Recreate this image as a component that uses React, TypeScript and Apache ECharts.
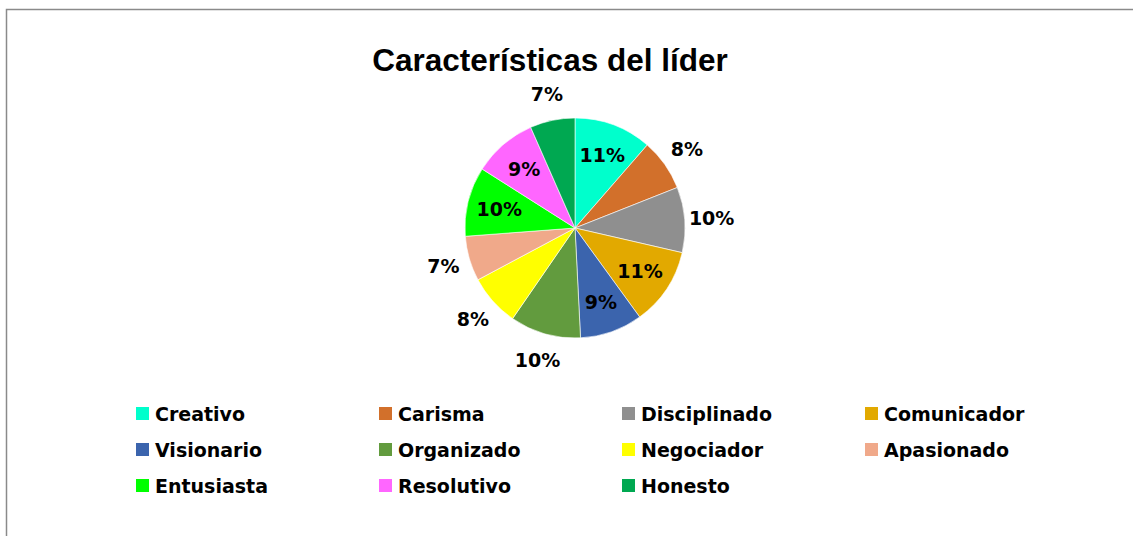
import React, { useEffect, useRef } from "react";
import * as echarts from "echarts";

const TITLE = "Características del líder";
const categories = [
  "Creativo",
  "Carisma",
  "Disciplinado",
  "Comunicador",
  "Visionario",
  "Organizado",
  "Negociador",
  "Apasionado",
  "Entusiasta",
  "Resolutivo",
  "Honesto",
];
const values = [11.4, 7.6, 9.6, 11.4, 9.2, 10.4, 7.6, 6.6, 10.2, 9.4, 6.6];
const colors = [
  "#00FFCC",
  "#D2702B",
  "#8F8F8F",
  "#E2A900",
  "#3B64AD",
  "#629B3E",
  "#FFFF00",
  "#F0A98A",
  "#00FF00",
  "#FF66FF",
  "#00A851",
];
const insideLabels = ["Creativo", "Comunicador", "Visionario", "Entusiasta", "Resolutivo"];

const LABEL_FONT = "'DejaVu Sans', sans-serif";

export default function App() {
  const ref = useRef<HTMLDivElement>(null);
  useEffect(() => {
    if (!ref.current) return;
    const chart = echarts.init(ref.current, undefined, { renderer: "svg" });
    const total = values.reduce((a, b) => a + b, 0);
    const fmt = (p: any) => Math.round((p.value / total) * 100) + "%";
    const labelStyle = {
      fontFamily: LABEL_FONT,
      fontWeight: "bold",
      fontSize: 19,
      color: "#000",
    };
    const center = [575, 228];
    chart.setOption({
      animation: false,
      backgroundColor: "#fff",
      title: {
        text: TITLE,
        left: 545,
        top: 39,
        textAlign: "center",
        textStyle: {
          fontFamily: "'Liberation Sans', Arial, sans-serif",
          fontWeight: "bold",
          fontSize: 31.5,
          color: "#000",
        },
      },
      graphic: [
        {
          type: "rect",
          silent: true,
          z: -10,
          shape: { x: 6.5, y: 9.5, width: 1300, height: 700 },
          style: { fill: "none", stroke: "#8a8a8a", lineWidth: 1.5 },
        },
      ],
      legend: {
        data: categories,
        left: 134,
        top: 404,
        width: 980,
        padding: 0,
        itemWidth: 15,
        itemHeight: 15,
        itemGap: 17,
        icon: "rect",
        selectedMode: false,
        textStyle: {
          fontFamily: LABEL_FONT,
          fontWeight: "bold",
          fontSize: 19,
          color: "#000",
          width: 205,
          lineHeight: 16,
        },
      },
      series: [
        {
          type: "pie",
          name: "main",
          center,
          radius: 110,
          startAngle: 90,
          clockwise: true,
          silent: true,
          label: { show: false },
          labelLine: { show: false },
          emphasis: { disabled: true },
          itemStyle: { borderColor: "#fff", borderWidth: 0.6 },
          data: categories.map((name, i) => ({
            name,
            value: values[i],
            itemStyle: { color: colors[i] },
          })),
        },
        {
          type: "pie",
          name: "inner-labels",
          center,
          radius: [40, 110],
          startAngle: 90,
          clockwise: true,
          silent: true,
          z: 5,
          itemStyle: { color: "rgba(0,0,0,0)" },
          emphasis: { disabled: true },
          labelLine: { show: false },
          data: categories.map((name, i) => ({
            name,
            value: values[i],
            label: {
              show: insideLabels.includes(name),
              position: "inside",
              formatter: fmt,
              ...labelStyle,
            },
          })),
        },
        {
          type: "pie",
          name: "outer-labels",
          center,
          radius: [110, 158],
          startAngle: 90,
          clockwise: true,
          silent: true,
          z: 5,
          itemStyle: { color: "rgba(0,0,0,0)" },
          emphasis: { disabled: true },
          labelLine: { show: false },
          data: categories.map((name, i) => ({
            name,
            value: values[i],
            label: {
              show: !insideLabels.includes(name),
              position: "inside",
              formatter: fmt,
              ...labelStyle,
            },
          })),
        },
      ],
    });
    return () => chart.dispose();
  }, []);
  return (
    <div
      ref={ref}
      style={{ position: "absolute", left: 0, top: 0, width: 1133, height: 536 }}
    />
  );
}
